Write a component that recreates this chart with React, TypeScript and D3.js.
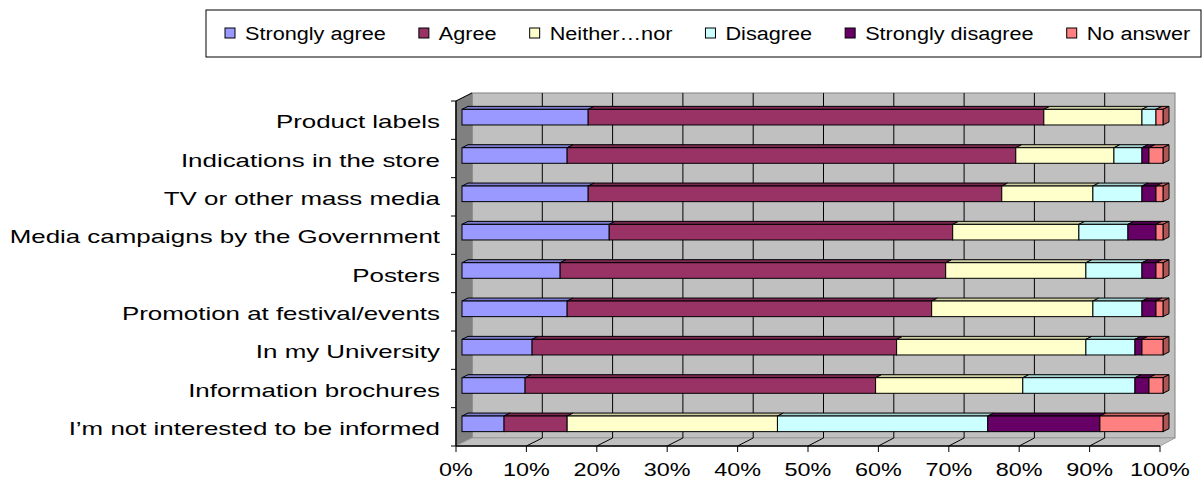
import React from "react";
import * as d3 from "d3";

const categories = [
  "Product labels",
  "Indications in the store",
  "TV or other mass media",
  "Media campaigns by the Government",
  "Posters",
  "Promotion at festival/events",
  "In my University",
  "Information brochures",
  "I’m not interested to be informed",
];
const seriesNames = ["Strongly agree", "Agree", "Neither…nor", "Disagree", "Strongly disagree", "No answer"];
const stronglyAgree = [18, 15, 18, 21, 14, 15, 10, 9, 6];
const agree = [65, 64, 59, 49, 55, 52, 52, 50, 9];
const neither = [14, 14, 13, 18, 20, 23, 27, 21, 30];
const disagree = [2, 4, 7, 7, 8, 7, 7, 16, 30];
const stronglyDisagree = [0, 1, 2, 4, 2, 2, 1, 2, 16];
const noAnswer = [1, 2, 1, 1, 1, 1, 3, 2, 9];
const tickValues = [0, 10, 20, 30, 40, 50, 60, 70, 80, 90, 100];
const colors = ["#9999FF", "#993366", "#FFFFCC", "#CCFFFF", "#660066", "#FF8080"];

const W = 1204, H = 487;
const FONT = "'Liberation Sans', Arial, sans-serif";

function measure(text: string, font: string) {
  const c = document.createElement("canvas");
  const ctx = c.getContext("2d")!;
  ctx.font = font;
  return ctx.measureText(text).width;
}

export default function App() {
  const seriesArrays = [stronglyAgree, agree, neither, disagree, stronglyDisagree, noAnswer];
  const table = categories.map((c, i) => {
    const row: any = { cat: c };
    seriesNames.forEach((s, j) => (row[s] = seriesArrays[j][i]));
    return row;
  });
  const stack = d3.stack<any>().keys(seriesNames)(table);

  // geometry
  const frontLeft = 456, frontRight = 1160, frontTop = 101, frontBottom = 446;
  const depthX = 16, depthY = 8;
  const barDX = 6, barDY = 3, barDepthX = 6, barDepthY = 3;

  const xAxis = d3.scaleLinear().domain([0, 100]).range([frontLeft, frontRight]);
  const xBack = d3.scaleLinear().domain([0, 100]).range([frontLeft + depthX, frontRight + depthX - 1]);
  const xBar = d3.scaleLinear().domain([0, 100]).range([frontLeft + barDX, frontRight + 3]);
  const y = d3.scaleBand<string>().domain(categories).range([frontTop, frontBottom]).paddingInner(0).paddingOuter(0);
  const barH = 15.6;

  const pts = (arr: number[][]) => arr.map((p) => p.join(",")).join(" ");

  // legend layout
  const legFont = `19px ${FONT}`;
  const legScale = 1.14;
  let lx = 225;
  const legendItems = seriesNames.map((s, i) => {
    const item = { name: s, x: lx, color: colors[i] };
    const tw = measure(s, legFont) * legScale;
    lx = lx + 20 + tw + 33;
    return item;
  });

  const wallBL = frontLeft + depthX, wallTop = frontTop - depthY, wallBot = frontBottom - depthY;
  const wallR = xBack(100);

  return (
    <svg width={W} height={H} style={{ position: "absolute", left: 0, top: 0, background: "#fff" }}>
      {/* Legend */}
      <rect x={206} y={10} width={995} height={47} fill="#fff" stroke="#000" strokeWidth={1} />
      {legendItems.map((it) => (
        <g key={it.name}>
          <rect x={it.x} y={28} width={10} height={10} fill={it.color} stroke="#000" strokeWidth={1} />
          <text
            transform={`translate(${it.x + 20},40) scale(${legScale},1)`}
            fontFamily={FONT}
            fontSize={19}
            fill="#000"
          >
            {it.name}
          </text>
        </g>
      ))}

      {/* back wall */}
      <rect x={wallBL} y={wallTop} width={wallR - wallBL} height={wallBot - wallTop} fill="#C0C0C0" stroke="#808080" strokeWidth={1} />
      {/* left wall */}
      <polygon
        points={pts([[frontLeft, frontTop], [wallBL, wallTop], [wallBL, wallBot], [frontLeft, frontBottom]])}
        fill="#808080"
        stroke="#808080"
      />
      <line x1={frontLeft} y1={frontTop} x2={wallBL} y2={wallTop} stroke="#000" strokeWidth={1} />
      {/* floor */}
      <polygon
        points={pts([[frontLeft, frontBottom], [wallBL, wallBot], [wallR, wallBot], [xAxis(100), frontBottom]])}
        fill="#C0C0C0"
        stroke="#a0a0a0"
        strokeWidth={1}
      />
      {/* gridlines on back wall */}
      {tickValues.slice(1, -1).map((t) => (
        <line key={"g" + t} x1={xBack(t)} x2={xBack(t)} y1={wallTop} y2={wallBot} stroke="#000" strokeWidth={1} />
      ))}
      {/* floor gridlines */}
      {tickValues.slice(1, -1).map((t) => (
        <line key={"f" + t} x1={xAxis(t)} y1={frontBottom} x2={xBack(t)} y2={wallBot} stroke="#000" strokeWidth={1} />
      ))}

      {/* bars */}
      {categories.map((c, i) => {
        const yTop = (y(c) as number) + y.bandwidth() / 2 - barH / 2 - barDY;
        const yBot = yTop + barH;
        const segs = stack
          .map((s, j) => ({ x0: s[i][0], x1: s[i][1], color: colors[j], key: s.key }))
          .filter((d) => d.x1 - d.x0 > 0);
        return (
          <g key={c}>
            {segs.map((d, k) => {
              const a = xBar(d.x0), b = xBar(d.x1);
              const top = d3.color(d.color)!.darker(0.6).formatHex();
              const side = d3.color(d.color)!.darker(1.1).formatHex();
              return (
                <g key={d.key}>
                  <polygon
                    points={pts([[a, yTop], [a + barDepthX, yTop - barDepthY], [b + barDepthX, yTop - barDepthY], [b, yTop]])}
                    fill={top}
                    stroke="#000"
                    strokeWidth={1}
                    strokeLinejoin="round"
                  />
                  {k === segs.length - 1 && (
                    <polygon
                      points={pts([[b, yTop], [b + barDepthX, yTop - barDepthY], [b + barDepthX, yBot - barDepthY], [b, yBot]])}
                      fill={side}
                      stroke="#000"
                      strokeWidth={1}
                      strokeLinejoin="round"
                    />
                  )}
                  <rect x={a} y={yTop} width={b - a} height={barH} fill={d.color} stroke="#000" strokeWidth={1} />
                </g>
              );
            })}
          </g>
        );
      })}

      {/* left axis */}
      <line x1={frontLeft} x2={frontLeft} y1={frontTop} y2={frontBottom} stroke="#000" strokeWidth={1.5} />
      {d3.range(categories.length + 1).map((k) => {
        const yy = frontTop + k * y.step();
        return <line key={"lt" + k} x1={frontLeft - 5} x2={frontLeft} y1={yy} y2={yy} stroke="#000" strokeWidth={1} />;
      })}
      {categories.map((c) => (
        <text
          key={"l" + c}
          transform={`translate(440,${(y(c) as number) + y.bandwidth() / 2 + 8}) scale(1.4,1)`}
          textAnchor="end"
          fontFamily={FONT}
          fontSize={18.5}
          fill="#000"
        >
          {c}
        </text>
      ))}

      {/* bottom axis */}
      <line x1={frontLeft} x2={xAxis(100)} y1={frontBottom} y2={frontBottom} stroke="#000" strokeWidth={1.5} />
      {tickValues.map((t) => (
        <g key={"bt" + t}>
          <line x1={xAxis(t)} x2={xAxis(t)} y1={frontBottom} y2={frontBottom + 6} stroke="#000" strokeWidth={1} />
          <text
            transform={`translate(${xAxis(t)},475.5) scale(1.3,1)`}
            textAnchor="middle"
            fontFamily={FONT}
            fontSize={18}
            fill="#000"
          >
            {t + "%"}
          </text>
        </g>
      ))}
    </svg>
  );
}
